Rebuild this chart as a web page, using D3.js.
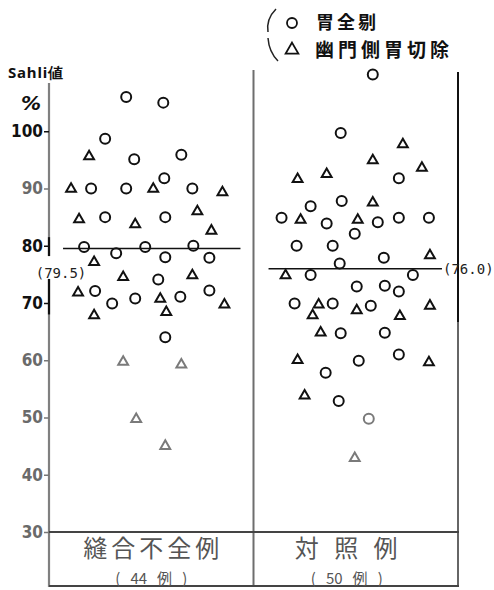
<!DOCTYPE html>
<html>
<head>
<meta charset="utf-8">
<script src="https://cdn.jsdelivr.net/npm/d3@7"></script>
<style>
  html, body { margin: 0; padding: 0; background: #fff; overflow: hidden; }
  .tick-label { font-family: "Liberation Sans Narrow", "DejaVu Sans Condensed", sans-serif; font-weight: bold; font-size: 17px; }
  .cjk { font-family: "Noto Sans CJK JP", sans-serif; }
  .mono { font-family: "DejaVu Sans Mono", "Liberation Mono", monospace; font-size: 14px; }
</style>
</head>
<body>
<svg id="chart"></svg>
<script>
// groups and their case counts
const groups = ['縫合不全例', '対照例'];
const groupLabels = ['縫合不全例', '対 照 例'];
const groupCounts = ['( 44 例 )', '( 50 例 )'];
const means = [79.5, 76.0];
const yTicks = [30, 40, 50, 60, 70, 80, 90, 100];

// [horizontal offset inside group, Sahli value, faded]
const leftTotal = [
  [77, 106.0], [114, 105.0], [56, 98.7], [85, 95.1], [132, 95.9], [115, 91.8],
  [42, 90], [77, 90], [143, 90], [56, 85], [116, 85], [35, 79.8], [96, 79.8],
  [144, 80], [67, 78.7], [116, 78.0], [160, 77.9], [109, 74.1], [46, 72.1],
  [160, 72.2], [63, 69.9], [86, 70.8], [131, 71.1], [116, 64.0]
];
const leftDistal = [
  [40, 95.7], [22, 90], [104, 90], [173, 89.4], [30, 84.7], [86, 83.8],
  [148, 86.1], [162, 82.7], [45, 77.2], [74, 74.6], [143, 74.9], [29, 71.9],
  [111, 70.8], [175, 69.8], [45, 67.9], [117, 68.5],
  [74, 59.8, 1], [132, 59.3, 1], [87, 49.8, 1], [116, 45.1, 1]
];
const rightTotal = [
  [119, 109.9], [87, 99.7], [145, 91.8], [57, 86.9], [88, 87.8], [28, 84.9],
  [73, 83.9], [124, 84.1], [145, 84.9], [175, 84.9], [101, 82.1], [43, 80.0],
  [79, 80.0], [130, 77.9], [86, 76.9], [57, 74.9], [159, 74.9], [103, 72.9],
  [131, 73.0], [145, 72.0], [41, 69.9], [79, 69.9], [117, 69.5], [87, 64.7],
  [131, 64.8], [145, 61.0], [105, 59.9], [72, 57.8], [85, 52.9], [115, 49.8, 1]
];
const rightDistal = [
  [149, 97.8], [119, 95.0], [168, 93.7], [44, 91.7], [73, 92.6], [119, 87.6],
  [47, 84.6], [104, 84.6], [176, 78.4], [32, 74.9], [65, 69.8], [103, 68.8],
  [176, 69.6], [59, 67.9], [146, 67.8], [67, 64.9], [44, 60.1], [175, 59.7],
  [51, 53.9], [101, 43.0, 1]
];
const meanSpan = [[14, 191], [15, 188]];

const width = 494, height = 590;
const svg = d3.select('#chart').attr('width', width).attr('height', height)
  .style('display', 'block');

const x = d3.scaleBand().domain(groups).range([49, 458]).padding(0);
const jx = d3.scaleLinear().domain([0, 204]).range([0, x.bandwidth()]);
const y = d3.scaleLinear().domain([30, 110]).range([532, 74]);

const px = (g, j) => x(g) + jx(j);

// frame, drawn as thin rects
const bottom = 586;
const frame = svg.append('g');
const vbar = (xx, y1, y2, color, w) => frame.append('rect')
  .attr('x', xx - w / 2).attr('y', y1).attr('width', w).attr('height', y2 - y1).attr('fill', color);
const hbar = (x1, x2, yy, color, w) => frame.append('rect')
  .attr('x', x1).attr('y', yy - w / 2).attr('width', x2 - x1).attr('height', w).attr('fill', color);
vbar(x.range()[0], 83, bottom + 1, '#808080', 2.2);
vbar(x(groups[1]), 70, bottom + 1, '#6e6e6e', 2);
vbar(x.range()[1], 72, 322, '#111', 2);
vbar(x.range()[1], 322, bottom + 1, '#666', 2);
hbar(x.range()[0], x.range()[1] + 1, y(30), '#444', 2);
hbar(x.range()[0], x.range()[1] + 1, bottom, '#444', 2);

// y axis
const yAxis = d3.axisLeft(y).tickValues(yTicks).tickSize(5).tickPadding(1);
const yAxisG = svg.append('g').attr('transform', `translate(${x.range()[0]},0)`).call(yAxis);
yAxisG.select('.domain').remove();
const dark = v => v === 100 || v === 80 || v === 70;
yAxisG.selectAll('.tick line').attr('stroke', d => dark(d) ? '#111' : '#777').attr('stroke-width', 1.5);
yAxisG.selectAll('.tick text')
  .attr('class', 'tick-label')
  .attr('fill', d => dark(d) ? '#111' : '#6a6a6a');

// white gap in the axis behind the left mean label, darker axis bits near 80/70
svg.append('rect').attr('x', 46).attr('y', y(78.2)).attr('width', 6).attr('height', y(74.2) - y(78.2)).attr('fill', '#fff');
svg.append('line').attr('x1', 49).attr('x2', 49).attr('y1', y(81.5)).attr('y2', y(78.2))
  .attr('stroke', '#111').attr('stroke-width', 2.2);
svg.append('line').attr('x1', 49).attr('x2', 49).attr('y1', y(74.2)).attr('y2', y(68))
  .attr('stroke', '#111').attr('stroke-width', 2.2);

svg.append('text').attr('x', 8).attr('y', 78).attr('font-family', 'Noto Sans, sans-serif')
  .attr('font-weight', 'bold').attr('font-size', 15).attr('letter-spacing', 0.8)
  .attr('fill', '#111').text('Sahli値');
svg.append('text').attr('x', 21).attr('y', 110).attr('font-family', 'DejaVu Sans, sans-serif')
  .attr('font-weight', 'bold').attr('font-style', 'italic').attr('font-size', 20).attr('fill', '#111').text('%');

// mean lines
means.forEach((m, i) => {
  const g = groups[i];
  svg.append('line')
    .attr('x1', px(g, meanSpan[i][0])).attr('x2', px(g, meanSpan[i][1]))
    .attr('y1', y(m)).attr('y2', y(m))
    .attr('stroke', '#111').attr('stroke-width', 1.5);
});
svg.append('text').attr('class', 'mono').attr('x', 61).attr('y', y(means[0]) + 29)
  .attr('text-anchor', 'middle').attr('fill', '#222').text(`(${means[0].toFixed(1)})`);
svg.append('text').attr('class', 'mono').attr('x', 443).attr('y', y(means[1]) + 5)
  .attr('fill', '#222').text(`(${means[1].toFixed(1)})`);

// markers
const tri = d3.symbol().type(d3.symbolTriangle).size(42);
const markColor = d => d[2] ? '#7a7a7a' : '#111';

function drawCircles(data, g) {
  svg.append('g').selectAll('circle').data(data).join('circle')
    .attr('cx', d => px(g, d[0])).attr('cy', d => y(d[1])).attr('r', 5)
    .attr('fill', 'none').attr('stroke', markColor).attr('stroke-width', 2);
}
function drawTriangles(data, g) {
  svg.append('g').selectAll('path').data(data).join('path')
    .attr('d', tri)
    .attr('transform', d => `translate(${px(g, d[0])},${y(d[1]) + 0.5})`)
    .attr('fill', 'none').attr('stroke', markColor).attr('stroke-width', 2)
    .attr('stroke-linejoin', 'miter');
}
drawCircles(leftTotal, groups[0]);
drawTriangles(leftDistal, groups[0]);
drawCircles(rightTotal, groups[1]);
drawTriangles(rightDistal, groups[1]);

// group labels
groups.forEach((g, i) => {
  const cx = x(g) + x.bandwidth() / 2 - (i ? 9 : 0);
  svg.append('text').attr('class', 'cjk').attr('x', cx + 2).attr('y', 557)
    .attr('text-anchor', 'middle').attr('font-size', 24).attr('fill', '#555')
    .attr('letter-spacing', i ? 5 : 4).text(groupLabels[i]);
  svg.append('text').attr('class', 'cjk').attr('x', cx).attr('y', 584)
    .attr('text-anchor', 'middle').attr('font-size', 15).attr('fill', '#555')
    .attr('xml:space', 'preserve').text(groupCounts[i].replace(/ /g, '   '));
});

// legend
const legend = svg.append('g');
legend.append('path').attr('d', 'M276,9 Q266,19 268,32').attr('fill', 'none').attr('stroke', '#222').attr('stroke-width', 1.5);
legend.append('path').attr('d', 'M268,38 Q269,52 278,61').attr('fill', 'none').attr('stroke', '#222').attr('stroke-width', 1.5);
legend.append('circle').attr('cx', 292).attr('cy', 23).attr('r', 5)
  .attr('fill', 'none').attr('stroke', '#111').attr('stroke-width', 1.8);
legend.append('path').attr('d', d3.symbol().type(d3.symbolTriangle).size(70))
  .attr('transform', 'translate(292,50)')
  .attr('fill', 'none').attr('stroke', '#111').attr('stroke-width', 1.8);
legend.append('text').attr('class', 'cjk').attr('x', 316).attr('y', 29)
  .attr('font-size', 18).attr('letter-spacing', 3).attr('font-weight', 'bold')
  .attr('fill', '#111').text('胃全剔');
legend.append('text').attr('class', 'cjk').attr('x', 315).attr('y', 56.5)
  .attr('font-size', 19).attr('letter-spacing', 4).attr('font-weight', 'bold')
  .attr('fill', '#111').text('幽門側胃切除');
</script>
</body>
</html>
